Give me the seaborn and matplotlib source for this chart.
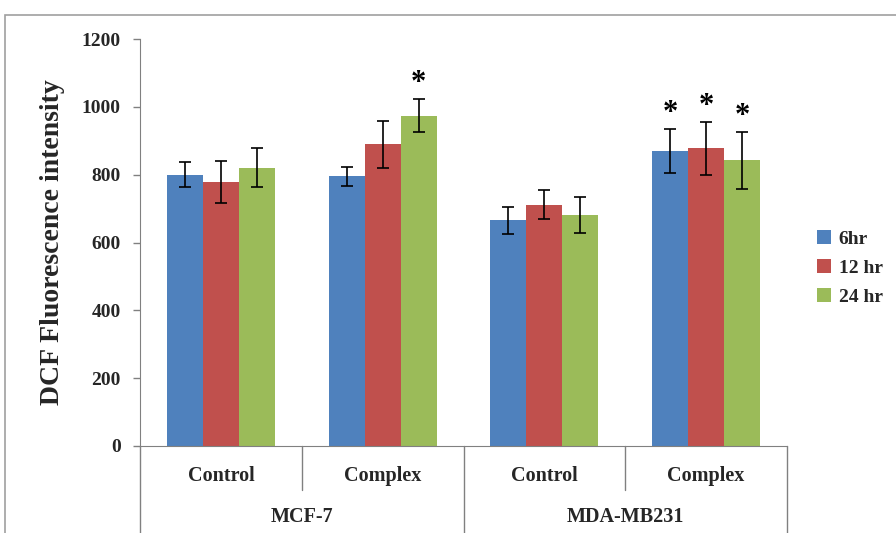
import matplotlib
matplotlib.use("Agg")
import matplotlib.pyplot as plt
import matplotlib.transforms as mtransforms
import seaborn as sns
import pandas as pd
import numpy as np

# ---- data ----
cell_lines = ["MCF-7", "MDA-MB231"]
treatments = ["Control", "Complex", "Control", "Complex"]
times = ["6hr", "12 hr", "24 hr"]
vals_6hr = [800, 796, 665, 870]
vals_12hr = [779, 889, 711, 878]
vals_24hr = [821, 974, 682, 843]
err_6hr = [37, 28, 41, 64]
err_12hr = [62, 70, 43, 78]
err_24hr = [58, 49, 53, 84]
stars_6hr = [False, False, False, True]
stars_12hr = [False, False, False, True]
stars_24hr = [False, True, False, True]

values = [vals_6hr, vals_12hr, vals_24hr]
errors = [err_6hr, err_12hr, err_24hr]
stars = [stars_6hr, stars_12hr, stars_24hr]

cats = [f"{i}" for i in range(len(treatments))]
rows = []
for t, vs in zip(times, values):
    for c, v in zip(cats, vs):
        rows.append({"cat": c, "time": t, "value": v})
df = pd.DataFrame(rows)

sns.set_style("white")
plt.rcParams["font.family"] = ["Liberation Serif", "DejaVu Serif"]
plt.rcParams["font.weight"] = "bold"

fig = plt.figure(figsize=(8.96, 5.33), dpi=100)
ax = fig.add_axes([140 / 896, (533 - 446) / 533, (787 - 140) / 896, (446 - 39) / 533])

palette = ["#4F81BD", "#C0504D", "#9BBB59"]
sns.barplot(data=df, x="cat", y="value", hue="time", hue_order=times, order=cats,
            palette=palette, width=0.667, gap=0, ax=ax, saturation=1, legend=True,
            edgecolor="none", errorbar=None)

for container, errs, st in zip(ax.containers, errors, stars):
    for bar, e, s in zip(container, errs, st):
        x = bar.get_x() + bar.get_width() / 2
        h = bar.get_height()
        ax.errorbar(x, h, yerr=e, color="black", capsize=4, elinewidth=1.2,
                    capthick=1.2, fmt="none", zorder=5)
        if s:
            ax.text(x, h + e + 3, "*", ha="center", va="bottom",
                    fontsize=22, fontweight="bold", color="black")

ax.set_ylim(0, 1200)
ax.set_xlim(-0.5, len(cats) - 0.5)
ax.set_yticks(np.arange(0, 1201, 200))
ax.tick_params(axis="y", which="both", left=True, direction="out", length=5,
               width=1, color="#808080", labelsize=14, pad=9)
for lbl in ax.get_yticklabels():
    lbl.set_fontweight("bold")
ax.set_xticks(range(len(cats)))
ax.set_xticklabels([])
ax.tick_params(axis="x", bottom=False)
ax.set_xlabel("")
ax.set_ylabel("DCF Fluorescence intensity", fontsize=20, fontweight="bold", labelpad=12)

for sp in ["top", "right"]:
    ax.spines[sp].set_visible(False)
ax.spines["left"].set_color("#808080")
ax.spines["bottom"].set_color("#808080")

# category labels
trans = mtransforms.blended_transform_factory(ax.transData, fig.transFigure)
for i, t in enumerate(treatments):
    ax.text(i, (533 - 476) / 533, t, transform=trans, ha="center", va="center",
            fontsize=14.5, fontweight="bold")
for j, g in enumerate(cell_lines):
    ax.text(2 * j + 0.5, (533 - 517) / 533, g, transform=trans, ha="center",
            va="center", fontsize=14.5, fontweight="bold")

# separators
sep_color = "#808080"
for xpos, ybot in [(-0.5, 0), (0.5, (533 - 490) / 533), (1.5, 0), (2.5, (533 - 490) / 533), (3.5, 0)]:
    ax.plot([xpos, xpos], [(533 - 446) / 533, ybot], transform=trans, color=sep_color,
            lw=1, clip_on=False)

leg = ax.legend(loc="center left", bbox_to_anchor=(1.035, (446 - 268) / 407), frameon=False,
                fontsize=14, handlelength=0.7, handleheight=0.7, handletextpad=0.4,
                labelspacing=0.6, borderaxespad=0)
for txt in leg.get_texts():
    txt.set_fontweight("bold")

# outer chart frame
fig.patches.append(plt.Rectangle((5 / 896, -0.05), 1.2, (533 - 15) / 533 + 0.05,
                                 transform=fig.transFigure, fill=False,
                                 edgecolor="#A0A0A0", lw=1.2))

fig.savefig("out.png", dpi=100)
